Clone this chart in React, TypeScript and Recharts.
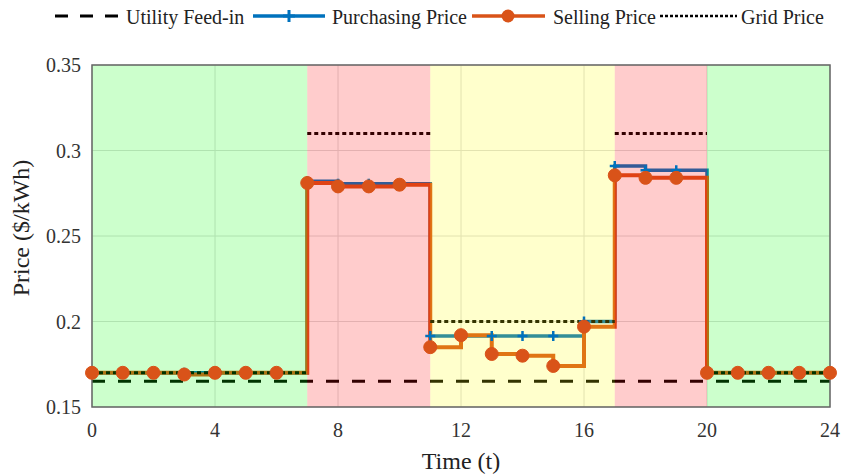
import { LineChart, Line, XAxis, YAxis, CartesianGrid, ReferenceArea } from "recharts";

const hours = [0, 1, 2, 3, 4, 5, 6, 7, 8, 9, 10, 11, 12, 13, 14, 15, 16, 17, 18, 19, 20, 21, 22, 23, 24];

const purchasingPrice = [
  0.17, 0.17, 0.17, 0.17, 0.17, 0.17, 0.17,
  0.282, 0.2805, 0.2805, 0.2805,
  0.1915, 0.1915, 0.1915, 0.1915, 0.1915, 0.2,
  0.291, 0.2885, 0.2885,
  0.17, 0.17, 0.17, 0.17, 0.17,
];

const sellingPrice = [
  0.17, 0.17, 0.17, 0.169, 0.17, 0.17, 0.17,
  0.281, 0.279, 0.279, 0.28,
  0.185, 0.192, 0.181, 0.18, 0.174, 0.197,
  0.2855, 0.284, 0.284,
  0.17, 0.17, 0.17, 0.17, 0.17,
];

const gridPrice = [
  0.17, 0.17, 0.17, 0.17, 0.17, 0.17, 0.17,
  0.31, 0.31, 0.31, 0.31,
  0.2, 0.2, 0.2, 0.2, 0.2, 0.2,
  0.31, 0.31, 0.31,
  0.17, 0.17, 0.17, 0.17, 0.17,
];

const feedIn = 0.165;

// tariff periods shaded over the plot
const periods = [
  { from: 0, to: 7, color: "#00ff00" },
  { from: 7, to: 11, color: "#ff0000" },
  { from: 11, to: 17, color: "#ffff00" },
  { from: 17, to: 20, color: "#ff0000" },
  { from: 20, to: 24, color: "#00ff00" },
];

const xTicks = [0, 4, 8, 12, 16, 20, 24];
const yTicks = [0.15, 0.2, 0.25, 0.3, 0.35];

const FONT = '"Liberation Serif", "Times New Roman", serif';
const BLUE = "#0072BD";
const ORANGE = "#D95319";

// grid price is drawn as flat pieces only, split over two keys so blocks don't join
const last = hours.length - 1;
const blockOf: number[] = [];
hours.forEach((_, i) => {
  if (i === 0) blockOf.push(0);
  else if (i === last) blockOf.push(blockOf[i - 1]);
  else blockOf.push(gridPrice[i] !== gridPrice[i - 1] ? blockOf[i - 1] + 1 : blockOf[i - 1]);
});

const data = hours.map((h, i) => {
  const row: Record<string, number | null> = {
    hour: h,
    purchasing: purchasingPrice[i],
    selling: sellingPrice[i],
    feedIn,
    grid0: null,
    grid1: null,
  };
  row["grid" + (blockOf[i] % 2)] = gridPrice[i];
  if (i > 0 && blockOf[i] !== blockOf[i - 1]) {
    row["grid" + (blockOf[i - 1] % 2)] = gridPrice[i - 1];
  }
  return row;
});

const PlusDot = (props: any) => {
  const { cx, cy, index } = props;
  if (cx == null || cy == null) return <g key={index} />;
  return (
    <path
      key={index}
      d={`M${cx - 5},${cy}h10M${cx},${cy - 5}v10`}
      stroke={BLUE}
      strokeWidth={2.5}
      fill="none"
    />
  );
};

const XTick = ({ x, y, payload }: any) => (
  <text x={x} y={y} dy="0.71em" textAnchor="middle" fontFamily={FONT} fontSize={20} fill="#333">
    {payload.value}
  </text>
);

const YTick = ({ x, y, payload }: any) => (
  <text x={x} y={y} dy="0.355em" textAnchor="end" fontFamily={FONT} fontSize={20} fill="#333">
    {payload.value}
  </text>
);

// legend and axis titles sit in an overlay
const Overlay = () => {
  const y = 16;
  const ty = 24;
  const text = { fontFamily: FONT, fontSize: 20, fill: "#222" };
  return (
    <svg width={843} height={476} style={{ position: "absolute", left: 0, top: 0, pointerEvents: "none" }}>
      <line x1={55} x2={122} y1={y} y2={y} stroke="#000" strokeWidth={3} strokeDasharray="13 12" />
      <text x={126} y={ty} {...text}>Utility Feed-in</text>
      <line x1={253} x2={325} y1={y} y2={y} stroke={BLUE} strokeWidth={3.5} />
      <path d={`M${283},${y}h12M${289},${y - 6}v12`} stroke={BLUE} strokeWidth={3} />
      <text x={332} y={ty} {...text}>Purchasing Price</text>
      <line x1={472} x2={545} y1={y} y2={y} stroke={ORANGE} strokeWidth={3.5} />
      <circle cx={508} cy={y} r={6.5} fill={ORANGE} />
      <text x={553} y={ty} {...text}>Selling Price</text>
      <line x1={660} x2={737} y1={y} y2={y} stroke="#000" strokeWidth={2.5} strokeDasharray="3 2" />
      <text x={741} y={ty} {...text}>Grid Price</text>

      <text x={461} y={469} textAnchor="middle" fontFamily={FONT} fontSize={24} fill="#222">
        Time (t)
      </text>
      <text
        x={29}
        y={228}
        textAnchor="middle"
        transform="rotate(-90 29 228)"
        fontFamily={FONT}
        fontSize={24}
        fill="#222"
      >
        Price ($/kWh)
      </text>
    </svg>
  );
};

export default function App() {
  return (
    <div
      style={{
        position: "absolute",
        left: 0,
        top: 0,
        width: 843,
        height: 476,
        background: "#fff",
        fontFamily: FONT,
        fontSize: 20,
      }}
    >
      <LineChart width={843} height={476} data={data} margin={{ top: 65, right: 13, left: 0, bottom: 0 }}>
        <CartesianGrid stroke="#dcdcdc" strokeWidth={1} />
        <XAxis
          dataKey="hour"
          type="number"
          domain={[0, 24]}
          ticks={xTicks}
          axisLine={false}
          tickLine={false}
          tickSize={6}
          tickMargin={10}
          height={69}
          tick={<XTick />}
        />
        <YAxis
          type="number"
          domain={[0.15, 0.35]}
          ticks={yTicks}
          axisLine={false}
          tickLine={false}
          tickSize={6}
          tickMargin={5}
          width={92}
          tick={<YTick />}
        />
        <Line
          dataKey="feedIn"
          type="linear"
          stroke="#000"
          strokeWidth={3}
          strokeDasharray="13 13"
          dot={false}
          isAnimationActive={false}
        />
        <Line
          dataKey="purchasing"
          type="stepAfter"
          stroke={BLUE}
          strokeWidth={3.5}
          dot={<PlusDot />}
          isAnimationActive={false}
        />
        <Line
          dataKey="selling"
          type="stepAfter"
          stroke={ORANGE}
          strokeWidth={4}
          dot={{ r: 6.5, fill: ORANGE, stroke: ORANGE, strokeWidth: 1 }}
          isAnimationActive={false}
        />
        <Line dataKey="grid0" type="stepAfter" stroke="#000" strokeWidth={3} strokeDasharray="4 3" dot={false} isAnimationActive={false} />
        <Line dataKey="grid1" type="stepAfter" stroke="#000" strokeWidth={3} strokeDasharray="4 3" dot={false} isAnimationActive={false} />
        {periods.map((p, i) => (
          <ReferenceArea
            key={i}
            x1={p.from}
            x2={p.to}
            y1={0.15}
            y2={0.35}
            fill={p.color}
            fillOpacity={0.2}
            stroke="none"
            zIndex={450}
          />
        ))}
        <ReferenceArea x1={0} x2={24} y1={0.15} y2={0.35} fill="none" stroke="#666" strokeWidth={1.5} zIndex={500} />
      </LineChart>
      <Overlay />
    </div>
  );
}
